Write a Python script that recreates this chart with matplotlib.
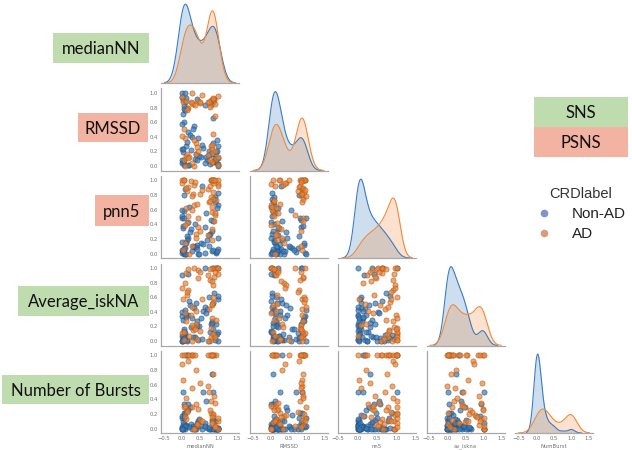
import numpy as np
import matplotlib
matplotlib.use("Agg")
import matplotlib.pyplot as plt
from matplotlib.patches import Rectangle
from matplotlib.lines import Line2D

# ==========================================================
# Data (one value per sample)
# ==========================================================

variables = ['medianNN', 'RMSSD', 'nn5', 'av_iskna', 'NumBurst']
classes = ['Non-AD', 'AD']

nonad_medianNN = [0.02, 0.85, 0.41, 0.07, 1.00, 0.18, 0.00, 0.63, 0.93, 0.05,
                  0.33, 0.78, 0.11, 0.00, 0.52, 0.88, 0.04, 0.26, 1.00, 0.09,
                  0.70, 0.45, 0.01, 0.83, 0.15, 0.97, 0.06, 0.37, 0.59, 0.00,
                  0.90, 0.22, 0.03, 0.80, 0.48, 0.13, 1.00, 0.08, 0.67, 0.30,
                  0.95, 0.02, 0.74, 0.19, 0.87, 0.00, 0.55, 0.10, 0.82, 0.39,
                  0.05, 1.00, 0.28, 0.91, 0.12, 0.64, 0.03, 0.86, 0.43, 0.00,
                  0.76, 0.16, 0.98, 0.07]
nonad_RMSSD = [0.06, 0.31, 0.92, 0.02, 0.11, 0.47, 0.24, 0.84, 0.19, 0.08,
               0.55, 0.03, 0.27, 1.00, 0.13, 0.05, 0.71, 0.22, 0.28, 0.88,
               0.09, 0.38, 0.04, 0.16, 0.80, 0.21, 0.60, 0.10, 0.25, 0.95,
               0.07, 0.43, 0.19, 0.86, 0.14, 0.33, 0.03, 0.76, 0.12, 0.51,
               0.05, 0.90, 0.20, 0.02, 0.66, 0.09, 0.29, 1.00, 0.06, 0.17,
               0.82, 0.00, 0.40, 0.11, 0.93, 0.04, 0.23, 0.87,
               0.08, 0.57, 0.15, 0.01, 0.35, 0.78]
nonad_nn5 = [0.03, 0.44, 0.12, 0.00, 0.67, 0.21, 0.05, 0.36, 0.01, 0.58,
             0.09, 0.27, 0.00, 0.49, 0.15, 0.74, 0.02, 0.33, 0.06, 0.88,
             0.18, 0.00, 0.52, 0.04, 0.24, 0.62, 0.08, 0.40, 0.13, 0.01,
             0.70, 0.29, 0.03, 0.46, 0.00, 0.19, 0.83, 0.07, 0.55, 0.11,
             0.02, 0.38, 0.25, 0.64, 0.05, 0.16, 0.93, 0.00, 0.31, 0.09,
             0.48, 0.22, 0.04, 0.77, 0.14, 0.01, 0.35, 1.00, 0.06, 0.60,
             0.10, 0.43, 0.03, 0.80]
nonad_iskna = [0.01, 0.52, 0.27, 0.14, 0.00, 0.36, 0.07, 1.00, 0.23, 0.04,
               0.45, 0.12, 0.35, 0.00, 0.31, 0.66, 0.03, 0.19, 0.58, 0.09,
               0.44, 0.02, 0.40, 0.27, 0.00, 1.00, 0.16, 0.05, 0.41, 0.34,
               0.08, 0.49, 0.00, 0.24, 0.21, 0.02, 0.62, 0.11, 0.38, 0.06,
               1.00, 0.29, 0.00, 0.55, 0.17, 0.90, 0.03, 0.43, 0.25, 0.52,
               0.05, 0.13, 0.31, 0.01, 0.33, 0.47, 0.07, 1.00, 0.20, 0.00,
               0.60, 0.92, 0.10, 0.04]
nonad_numburst = [0.00, 0.12, 0.03, 0.06, 0.00, 0.25, 0.01, 0.08, 0.00, 0.33,
                  0.02, 0.00, 0.05, 0.15, 0.04, 0.00, 0.50, 0.06, 0.00, 0.21,
                  0.01, 0.10, 0.00, 0.12, 0.03, 0.00, 0.18, 0.00, 0.50, 0.02,
                  0.00, 0.29, 0.05, 0.00, 0.13, 1.00, 0.01, 0.00, 0.38, 0.04,
                  0.00, 0.09, 0.00, 0.02, 0.00, 0.17, 0.00, 0.03, 0.75, 0.00,
                  0.22, 0.01, 0.00, 0.11, 1.00, 0.04, 0.00, 0.50, 0.07, 0.00,
                  0.02, 0.33, 0.00, 0.14]

ad_medianNN = [0.88, 0.12, 0.39, 1.00, 0.31, 0.04, 0.79, 0.44, 0.93, 0.18,
               0.45, 0.00, 0.84, 0.72, 0.09, 0.26, 0.33, 0.80, 0.15, 0.81,
               1.00, 0.38, 0.85, 0.06, 0.90, 0.75, 0.21, 0.86, 0.49, 0.84,
               0.27, 0.13, 0.88, 0.34, 0.82, 1.00, 0.86, 0.08, 0.77, 0.42,
               0.87, 0.16, 0.29, 0.51, 0.00, 0.73, 0.28, 0.92, 0.82, 0.11,
               0.83, 0.37, 0.91, 0.55, 0.05, 0.78]
ad_RMSSD = [0.91, 0.14, 0.16, 0.02, 0.85, 0.88, 0.27, 0.89, 0.10, 0.79,
            0.20, 0.95, 0.06, 0.88, 0.38, 0.87, 0.00, 0.83, 0.17, 0.90,
            0.13, 0.31, 0.92, 0.08, 0.68, 0.88, 0.12, 0.44, 0.86, 0.23,
            0.04, 0.77, 0.90, 0.35, 0.18, 0.96, 0.91, 0.00, 0.81, 0.26,
            0.93, 0.11, 0.86, 0.87, 0.41, 0.15, 1.00, 0.85, 0.05, 0.89,
            0.29, 0.84, 0.21, 0.97, 0.50, 0.09]
ad_nn5 = [1.00, 0.62, 0.27, 0.95, 0.81, 0.05, 1.00, 0.48, 0.73, 0.91,
          0.36, 1.00, 0.57, 0.88, 0.14, 0.99, 0.66, 1.00, 0.42, 0.77,
          0.93, 0.22, 0.84, 1.00, 0.53, 0.70, 0.00, 0.97, 0.31, 1.00,
          0.60, 0.86, 0.45, 0.94, 0.18, 1.00, 0.75, 0.39, 0.92, 0.68,
          1.00, 0.51, 0.10, 0.82, 0.96, 0.25, 0.79, 1.00, 0.64, 0.90,
          0.34, 0.98, 0.56, 0.87, 1.00, 0.72]
ad_iskna = [0.08, 0.93, 0.41, 1.00, 0.15, 0.57, 0.02, 0.86, 0.29, 0.70,
            0.97, 0.11, 0.49, 0.00, 0.80, 0.36, 1.00, 0.18, 0.63, 0.05,
            0.91, 0.24, 0.54, 0.13, 1.00, 0.44, 0.07, 0.76, 0.95, 0.32,
            0.00, 0.67, 0.88, 0.19, 0.51, 1.00, 0.10, 0.39, 0.84, 0.03,
            0.60, 0.98, 0.22, 0.14, 0.73, 0.90, 0.46, 0.06, 1.00, 0.27,
            0.82, 0.16, 0.94, 0.58, 0.01, 0.99]
ad_numburst = [1.00, 0.13, 0.33, 0.00, 1.00, 0.67, 0.21, 0.05, 1.00, 0.92,
               0.27, 1.00, 0.09, 0.58, 0.17, 1.00, 0.00, 0.38, 0.25, 1.00,
               0.11, 0.80, 1.00, 0.30, 0.03, 0.50, 1.00, 0.19, 0.62, 0.08,
               1.00, 0.23, 0.44, 0.00, 1.00, 0.14, 0.75, 0.31, 1.00, 0.06,
               0.20, 1.00, 0.55, 0.12, 0.88, 1.00, 0.29, 0.02, 1.00, 0.42,
               0.16, 1.00, 0.35, 0.10, 1.00, 0.25]

data = {
    'Non-AD': [nonad_medianNN, nonad_RMSSD, nonad_nn5, nonad_iskna, nonad_numburst],
    'AD': [ad_medianNN, ad_RMSSD, ad_nn5, ad_iskna, ad_numburst],
}

# annotation boxes on the left / right
row_labels = ['medianNN', 'RMSSD', 'pnn5', 'Average_iskNA', 'Number of Bursts']
row_groups = ['SNS', 'PSNS', 'PSNS', 'SNS', 'SNS']
key_groups = ['SNS', 'PSNS']

# ==========================================================
# Style
# ==========================================================

W, H = 632, 450
fig = plt.figure(figsize=(W / 100, H / 100), dpi=100)

col_face = {'Non-AD': '#3a7ab8', 'AD': '#e8843a'}
col_edge = {'Non-AD': '#1d4a78', 'AD': '#b0540f'}
col_line = {'Non-AD': '#3b7dbf', 'AD': '#f08a3c'}
col_key = {'Non-AD': '#8095c4', 'AD': '#dc9a7c'}
box_col = {'SNS': '#bfdcae', 'PSNS': '#f3b3a2'}
spine_col = '#a8a8a8'
tick_col = '#707070'


def kde(vals, n_total):
    v = np.asarray(vals)
    n = len(v)
    bw = v.std(ddof=1) * n ** (-0.2)
    grid = np.linspace(v.min() - 3 * bw, v.max() + 3 * bw, 200)
    dens = np.exp(-0.5 * ((grid[:, None] - v[None, :]) / bw) ** 2).sum(axis=1)
    dens = dens / (n * bw * np.sqrt(2 * np.pi)) * n / n_total
    return grid, dens


n_total = sum(len(data[c][0]) for c in classes)
nv = len(variables)

# ==========================================================
# Corner pair grid
# ==========================================================

col_axes = {}
for i in range(nv):
    for j in range(i + 1):
        left = 161 + 88.5 * j
        top = 1 + 87.5 * i
        rect = [left / W, 1 - (top + 82) / H, 78 / W, 82 / H]
        ax = fig.add_axes(rect, sharex=col_axes.get(j))
        col_axes.setdefault(j, ax)

        for s in ['top', 'right']:
            ax.spines[s].set_visible(False)
        for s in ['left', 'bottom']:
            ax.spines[s].set_color(spine_col)
            ax.spines[s].set_linewidth(0.9)
        ax.tick_params(length=0, labelsize=3.8, colors=tick_col, pad=2)

        if i == j:
            ymax = 0
            for c in classes:
                g, d = kde(data[c][i], n_total)
                ax.fill_between(g, d, color=col_line[c], alpha=0.25, lw=0)
                ax.plot(g, d, color=col_line[c], lw=0.8)
                ymax = max(ymax, d.max())
            ax.set_ylim(0, ymax * 1.04)
            ax.spines['left'].set_visible(False)
            ax.set_yticks([])
        else:
            for c in classes:
                ax.scatter(data[c][j], data[c][i], s=14, c=col_face[c],
                           edgecolors=col_edge[c], linewidths=0.5, alpha=0.7)
            ax.set_ylim(-0.06, 1.06)
            ax.set_yticks([0.0, 0.2, 0.4, 0.6, 0.8, 1.0])
            if j > 0:
                ax.tick_params(labelleft=False)

        if i == nv - 1:
            ax.set_xticks([-0.5, 0.0, 0.5, 1.0, 1.5])
            ax.set_xlabel(variables[j], fontsize=3.8, color=tick_col, labelpad=2)
        else:
            ax.tick_params(labelbottom=False)

# ==========================================================
# Overlay boxes and legend
# ==========================================================

over = fig.add_axes([0, 0, 1, 1])
over.set_xlim(0, W)
over.set_ylim(H, 0)
over.axis('off')

boxes = [(53, 33, 149, 63), (78, 113, 148, 142), (95, 195, 149, 226),
         (18, 286, 149, 316), (2, 375, 149, 404)]
for (x0, y0, x1, y1), lab, grp in zip(boxes, row_labels, row_groups):
    over.add_patch(Rectangle((x0, y0), x1 - x0, y1 - y0, color=box_col[grp], lw=0))
    over.text((x0 + x1) / 2, (y0 + y1) / 2 + 1, lab, ha='center', va='center',
              fontsize=12, family='Lato', color='#111111')

for (y0, y1), grp in zip([(97, 127), (127, 157)], key_groups):
    over.add_patch(Rectangle((534, y0), 94, y1 - y0, color=box_col[grp], lw=0))
    over.text(581, (y0 + y1) / 2 + 1, grp, ha='center', va='center',
              fontsize=12, family='Lato', color='#111111')

handles = [Line2D([], [], marker='o', ls='none', markersize=4.5,
                  markerfacecolor=col_key[c], markeredgecolor=col_key[c])
           for c in classes]
leg = fig.legend(handles, classes, title='CRDlabel', loc='upper left',
                 bbox_to_anchor=(530 / W, 1 - 181 / H), frameon=False,
                 prop={'family': 'Liberation Sans', 'size': 11},
                 handlelength=1.0, handletextpad=1.35, labelspacing=0.4,
                 borderaxespad=0)
leg.get_title().set_fontfamily('Liberation Sans')
leg.get_title().set_fontsize(10.5)
leg.get_title().set_color('#333333')
for t in leg.get_texts():
    t.set_color('#222222')

fig.savefig('out.png', dpi=100)
